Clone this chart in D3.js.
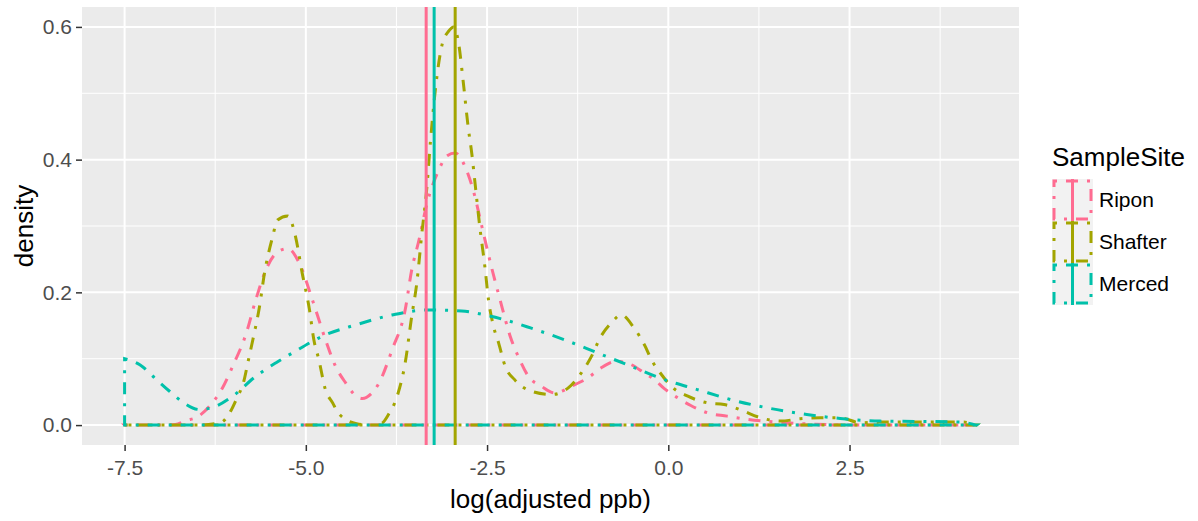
<!DOCTYPE html>
<html>
<head>
<meta charset="utf-8">
<script src="https://cdnjs.cloudflare.com/ajax/libs/d3/7.8.5/d3.min.js"></script>
<style>
  body { margin: 0; background: #fff; }
  svg { display: block; font-family: "Liberation Sans", Arial, sans-serif; }
  .axis-label { fill: #4d4d4d; font-size: 21px; }
</style>
</head>
<body>
<div class="chart"></div>
<script>
'use strict';

// Categories and colours
var SITES = ['Ripon', 'Shafter', 'Merced'];
var COLORS = ['#ff6c91', '#a3a500', '#00c1aa'];

// Density curves
var riponX = [-7.5, -7.0, -6.8, -6.65, -6.5, -6.33, -6.15, -6.01, -5.82, -5.69, -5.55, -5.41, -5.25, -5.09, -4.91, -4.73, -4.59, -4.45, -4.31, -4.22, -4.1, -3.99, -3.81, -3.63, -3.54, -3.44, -3.33, -3.17, -3.05, -2.94, -2.80, -2.69, -2.57, -2.44, -2.32, -2.18, -2.05, -1.93, -1.75, -1.57, -1.29, -1.11, -0.93, -0.72, -0.51, -0.33, -0.19, -0.055, 0.13, 0.31, 0.54, 0.81, 1.04, 1.32, 1.87, 2.3, 3.0, 4.25];
var riponY = [0, 0, 0.001, 0.007, 0.012, 0.0285, 0.056, 0.0885, 0.139, 0.189, 0.234, 0.259, 0.266, 0.244, 0.189, 0.129, 0.0885, 0.0635, 0.044, 0.040, 0.047, 0.0635, 0.1135, 0.1735, 0.2335, 0.2785, 0.3335, 0.3835, 0.406, 0.41, 0.3885, 0.3535, 0.2985, 0.2385, 0.1885, 0.1335, 0.0985, 0.0735, 0.0585, 0.0485, 0.061, 0.071, 0.086, 0.096, 0.091, 0.0785, 0.0685, 0.055, 0.041, 0.0295, 0.0185, 0.0135, 0.0095, 0.006, 0.002, 0.0005, 0, 0];

var shafterX = [-7.5, -6.5, -6.17, -6.05, -5.96, -5.85, -5.80, -5.73, -5.64, -5.57, -5.46, -5.39, -5.25, -5.14, -5.05, -4.95, -4.89, -4.82, -4.73, -4.63, -4.57, -4.45, -4.3, -4.1, -3.95, -3.86, -3.74, -3.63, -3.54, -3.47, -3.40, -3.33, -3.28, -3.21, -3.12, -3.03, -2.96, -2.89, -2.83, -2.76, -2.71, -2.66, -2.60, -2.53, -2.48, -2.41, -2.34, -2.25, -2.12, -1.89, -1.61, -1.38, -1.20, -1.06, -0.93, -0.79, -0.65, -0.47, -0.33, -0.22, -0.10, 0.04, 0.27, 0.54, 0.77, 1.04, 1.23, 1.55, 1.82, 2.10, 2.37, 2.65, 2.92, 3.47, 4.07, 4.25];
var shafterY = [0, 0, 0.004, 0.0186, 0.0385, 0.0685, 0.094, 0.129, 0.178, 0.229, 0.283, 0.309, 0.315, 0.283, 0.229, 0.174, 0.129, 0.0985, 0.0535, 0.0335, 0.021, 0.0085, 0.002, 0, 0.003, 0.016, 0.0435, 0.0935, 0.1635, 0.2135, 0.2885, 0.3585, 0.4285, 0.5085, 0.5735, 0.5935, 0.6, 0.5735, 0.5185, 0.4485, 0.4085, 0.3585, 0.2985, 0.2385, 0.1885, 0.1485, 0.1235, 0.0885, 0.0685, 0.051, 0.046, 0.056, 0.0785, 0.1035, 0.1335, 0.1535, 0.166, 0.146, 0.121, 0.096, 0.077, 0.0585, 0.0435, 0.0335, 0.031, 0.021, 0.0125, 0.006, 0.0095, 0.011, 0.011, 0.0035, 0.0045, 0.0045, 0.0045, 0];

var mercedX = [-7.5, -7.29, -7.06, -6.88, -6.69, -6.47, -6.3, -6.01, -5.69, -5.41, -5.18, -4.73, -4.31, -3.81, -3.31, -2.85, -2.53, -2.25, -1.89, -1.43, -0.97, -0.51, -0.055, 0.40, 0.86, 1.41, 1.91, 2.37, 2.92, 3.47, 4.02, 4.25];
var mercedY = [0.100, 0.091, 0.0685, 0.051, 0.034, 0.0235, 0.026, 0.0435, 0.0735, 0.094, 0.109, 0.136, 0.151, 0.166, 0.1735, 0.172, 0.166, 0.1585, 0.146, 0.1285, 0.1085, 0.0885, 0.0685, 0.0535, 0.0385, 0.025, 0.016, 0.010, 0.006, 0.0055, 0.0045, 0];

// Mean of each site (vertical lines)
var MEANS = [-3.34, -2.94, -3.23];

// Tick labels
var xTicks = [-7.5, -5.0, -2.5, 0.0, 2.5];
var xMinor = [-6.25, -3.75, -1.25, 1.25, 3.75];
var yTicks = [0.0, 0.2, 0.4, 0.6];
var yMinor = [0.1, 0.3, 0.5];

var curves = [
  {x: riponX, y: riponY},
  {x: shafterX, y: shafterY},
  {x: mercedX, y: mercedY}
];

//Width and height
var w = 1198;
var h = 521;
var panel = {left: 82, top: 7, right: 1019, bottom: 445};
var lwd = 3;
var DASH = [lwd, 3 * lwd, 4 * lwd, 3 * lwd].join(',');

// Plain hyphen for negatives, like R
var fmt = function(d) { return d.toFixed(1); };

// Scales with ggplot's 5% expansion
var xMin = -7.5, xMax = 4.25, yMax = 0.6;
var xPad = (xMax - xMin) * 0.05;
var xScale = d3.scaleLinear()
  .domain([xMin - xPad, xMax + xPad])
  .range([panel.left, panel.right]);
var yScale = d3.scaleLinear()
  .domain([-yMax * 0.05, yMax * 1.05])
  .range([panel.bottom, panel.top]);

var svg = d3.select('.chart')
  .append('svg')
  .attr('width', w)
  .attr('height', h);

// Panel background
svg.append('rect')
  .attr('x', panel.left)
  .attr('y', panel.top)
  .attr('width', panel.right - panel.left)
  .attr('height', panel.bottom - panel.top)
  .attr('fill', '#ebebeb');

// Grid lines
var grid = svg.append('g').attr('stroke', '#fff');
grid.selectAll('.xminor').data(xMinor).enter().append('line')
  .attr('x1', function(d) { return xScale(d); })
  .attr('x2', function(d) { return xScale(d); })
  .attr('y1', panel.top).attr('y2', panel.bottom)
  .attr('stroke-width', 1);
grid.selectAll('.yminor').data(yMinor).enter().append('line')
  .attr('y1', function(d) { return yScale(d); })
  .attr('y2', function(d) { return yScale(d); })
  .attr('x1', panel.left).attr('x2', panel.right)
  .attr('stroke-width', 1);
grid.selectAll('.xmajor').data(xTicks).enter().append('line')
  .attr('x1', function(d) { return xScale(d); })
  .attr('x2', function(d) { return xScale(d); })
  .attr('y1', panel.top).attr('y2', panel.bottom)
  .attr('stroke-width', 2);
grid.selectAll('.ymajor').data(yTicks).enter().append('line')
  .attr('y1', function(d) { return yScale(d); })
  .attr('y2', function(d) { return yScale(d); })
  .attr('x1', panel.left).attr('x2', panel.right)
  .attr('stroke-width', 2);

// Density outlines (closed along the baseline, like geom_density)
var line = d3.line()
  .x(function(d) { return xScale(d[0]); })
  .y(function(d) { return yScale(d[1]); })
  .curve(d3.curveMonotoneX);

var area = function(c) {
  var pts = c.x.map(function(v, i) { return [v, c.y[i]]; });
  var x0 = c.x[0], x1 = c.x[c.x.length - 1];
  return line(pts) + 'L' + xScale(x1) + ',' + yScale(0) +
    'L' + xScale(x0) + ',' + yScale(0) + 'Z';
};

svg.append('g')
  .selectAll('path')
  .data(curves)
  .enter()
  .append('path')
  .attr('d', area)
  .attr('fill', 'none')
  .attr('stroke', function(d, i) { return COLORS[i]; })
  .attr('stroke-width', lwd)
  .attr('stroke-dasharray', DASH);

// Mean lines
svg.append('g')
  .selectAll('line')
  .data(MEANS)
  .enter()
  .append('line')
  .attr('x1', function(d) { return xScale(d); })
  .attr('x2', function(d) { return xScale(d); })
  .attr('y1', panel.top)
  .attr('y2', panel.bottom)
  .attr('stroke', function(d, i) { return COLORS[i]; })
  .attr('stroke-width', lwd);

// Axes
var xAxis = d3.axisBottom(xScale)
  .tickValues(xTicks)
  .tickFormat(fmt)
  .tickSize(6)
  .tickPadding(5);
var yAxis = d3.axisLeft(yScale)
  .tickValues(yTicks)
  .tickFormat(fmt)
  .tickSize(6)
  .tickPadding(4);

var gx = svg.append('g')
  .attr('transform', 'translate(0,' + panel.bottom + ')')
  .call(xAxis);
var gy = svg.append('g')
  .attr('transform', 'translate(' + panel.left + ',0)')
  .call(yAxis);

[gx, gy].forEach(function(g) {
  g.select('.domain').remove();
  g.selectAll('line').attr('stroke', '#333').attr('stroke-width', 1.5);
  g.selectAll('text')
    .attr('class', 'axis-label')
    .attr('font-family', null)
    .attr('font-size', null)
    .attr('fill', null);
});
gx.selectAll('text').attr('dy', '0.9em');

// Axis titles
svg.append('text')
  .attr('x', (panel.left + panel.right) / 2)
  .attr('y', 508)
  .attr('text-anchor', 'middle')
  .attr('font-size', '26px')
  .text('log(adjusted ppb)');

svg.append('text')
  .attr('transform', 'translate(33,' + (panel.top + panel.bottom) / 2 + ') rotate(-90)')
  .attr('text-anchor', 'middle')
  .attr('font-size', '26px')
  .text('density');

// Legend
var legend = svg.append('g').attr('transform', 'translate(1052,0)');
legend.append('text')
  .attr('x', 0)
  .attr('y', 166)
  .attr('font-size', '26px')
  .text('SampleSite');

var keyW = 41, keyH = 42, keyTop = 179;
var keys = legend.selectAll('.key')
  .data(SITES)
  .enter()
  .append('g')
  .attr('transform', function(d, i) { return 'translate(0,' + (keyTop + i * keyH) + ')'; });

keys.append('rect')
  .attr('width', keyW)
  .attr('height', keyH)
  .attr('fill', '#f2f2f2');
keys.append('rect')
  .attr('x', lwd / 2 + 0.5)
  .attr('y', lwd / 2 + 0.5)
  .attr('width', keyW - lwd - 1)
  .attr('height', keyH - lwd - 1)
  .attr('fill', 'none')
  .attr('stroke', function(d, i) { return COLORS[i]; })
  .attr('stroke-width', lwd)
  .attr('stroke-dasharray', DASH);
keys.append('line')
  .attr('x1', keyW / 2).attr('x2', keyW / 2)
  .attr('y1', 0).attr('y2', keyH)
  .attr('stroke', function(d, i) { return COLORS[i]; })
  .attr('stroke-width', lwd);
keys.append('text')
  .attr('x', keyW + 6)
  .attr('y', keyH / 2)
  .attr('dy', '0.35em')
  .attr('font-size', '21px')
  .text(function(d) { return d; });
</script>
</body>
</html>
